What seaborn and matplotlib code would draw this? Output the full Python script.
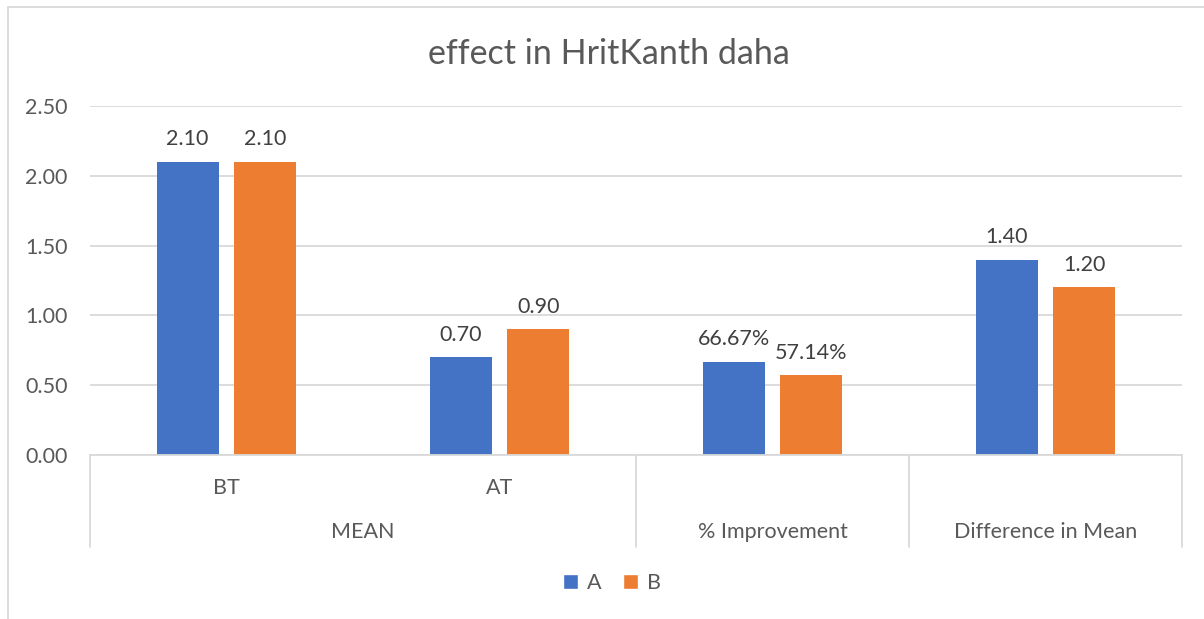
import matplotlib
matplotlib.use("Agg")
import matplotlib.pyplot as plt
import seaborn as sns
import pandas as pd
from matplotlib.lines import Line2D
from matplotlib.patches import Patch

# ---- data ----
slots = ["BT", "AT", "% Improvement", "Difference in Mean"]
sub_labels = ["BT", "AT", "", ""]
groups = ["MEAN", "% Improvement", "Difference in Mean"]
series = ["A", "B"]
values_a = [2.10, 0.70, 0.6667, 1.40]
values_b = [2.10, 0.90, 0.5714, 1.20]
labels_a = ["2.10", "0.70", "66.67%", "1.40"]
labels_b = ["2.10", "0.90", "57.14%", "1.20"]
yticks = [0.0, 0.5, 1.0, 1.5, 2.0, 2.5]
title = "effect in HritKanth daha"

df = pd.DataFrame({
    "slot": slots * 2,
    "value": values_a + values_b,
    "series": ["A"] * 4 + ["B"] * 4,
})

sns.set_theme(style="white")
plt.rcParams["font.family"] = ["Lato", "DejaVu Sans"]

FS = 15.5
W, H = 1204, 619
fig = plt.figure(figsize=(W / 100, H / 100), dpi=100)
ax = fig.add_axes([90 / W, 1 - 455 / H, (1182 - 90) / W, (455 - 106) / H])

sns.barplot(data=df, x="slot", y="value", hue="series", order=slots,
            palette=["#4472C4", "#ED7D31"], width=0.571, gap=0.205,
            saturation=1, linewidth=0, ax=ax, legend=False)

ax.set_xlim(-0.5, 3.5)
ax.set_ylim(0, 2.5)
ax.set_yticks(yticks)
ax.set_yticklabels([f"{t:.2f}" for t in yticks], color="#595959", fontsize=FS)
ax.tick_params(axis="y", length=0, pad=16)
ax.set_xticks([])
ax.set_xlabel("")
ax.set_ylabel("")
ax.yaxis.grid(True, color="#D9D9D9", linewidth=1.3)
ax.set_axisbelow(True)
for s in ["top", "right", "left"]:
    ax.spines[s].set_visible(False)
ax.spines["bottom"].set_color("#D9D9D9")
ax.spines["bottom"].set_linewidth(1.3)

for cont, labs in zip(ax.containers, [labels_a, labels_b]):
    ax.bar_label(cont, labels=labs, padding=9, fontsize=FS, color="#404040")

# multi-level category axis
trans = ax.get_xaxis_transform()
def ypx(py):
    return (455 - py) / (455 - 106)

for i, lab in enumerate(sub_labels):
    if lab:
        ax.text(i, ypx(488), lab, transform=trans, ha="center", va="center",
                fontsize=FS, color="#595959", clip_on=False)
group_pos = [0.5, 2, 3]
for gx, g in zip(group_pos, groups):
    ax.text(gx, ypx(532), g, transform=trans, ha="center", va="center",
            fontsize=FS, color="#595959", clip_on=False)
for sx in [-0.5, 1.5, 2.5, 3.5]:
    ax.add_line(Line2D([sx, sx], [0, ypx(547)], transform=trans,
                       color="#D9D9D9", linewidth=1.3, clip_on=False))

# title
fig.text(609 / W, 1 - 54 / H, title, ha="center", va="center",
         fontsize=24.5, color="#595959")

# legend
handles = [Patch(facecolor="#4472C4", label="A"),
           Patch(facecolor="#ED7D31", label="B")]
fig.legend(handles=handles, loc="center", bbox_to_anchor=(612 / W, 1 - 583 / H),
           ncol=2, frameon=False, fontsize=FS, handlelength=0.7,
           handleheight=0.7, handletextpad=0.4, columnspacing=1.0,
           labelcolor="#595959")

# chart-area border (top and left visible)
fig.add_artist(Line2D([8 / W, 1.0], [1 - 7 / H, 1 - 7 / H], transform=fig.transFigure,
                      color="#D9D9D9", linewidth=1.3))
fig.add_artist(Line2D([8 / W, 8 / W], [0, 1 - 7 / H], transform=fig.transFigure,
                      color="#D9D9D9", linewidth=1.3))

fig.savefig("out.png", dpi=100, facecolor="white")
